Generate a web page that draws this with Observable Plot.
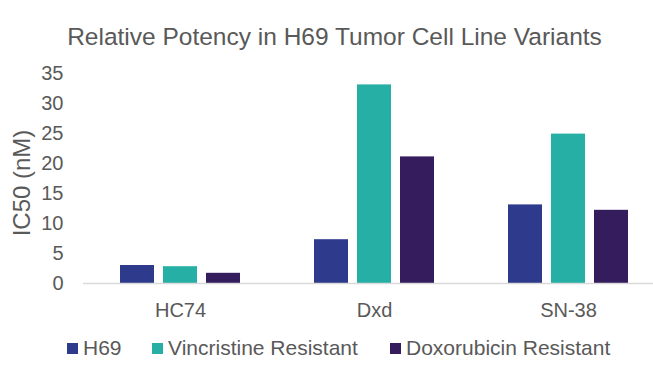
<!DOCTYPE html>
<html>
<head>
<meta charset="utf-8">
<script src="https://cdn.jsdelivr.net/npm/d3@7"></script>
<script src="https://cdn.jsdelivr.net/npm/@observablehq/plot@0.6"></script>
<style>
  html, body { margin: 0; padding: 0; background: #fff; overflow: hidden; }
  #wrap { position: relative; width: 653px; height: 371px; overflow: hidden; font-family: "Liberation Sans", Arial, sans-serif; color: #595959; }
  #title { position: absolute; left: 16px; width: 637px; top: 25px; font-size: 24.5px; line-height: 24px; text-align: center; white-space: nowrap; }
  #ylabel { position: absolute; left: 22px; top: 183px; font-size: 24px; line-height: 24px; white-space: nowrap; transform: translate(-50%, -50%) rotate(-90deg); }
  .leg { position: absolute; top: 337px; font-size: 21px; line-height: 21px; white-space: nowrap; }
  .sw { position: absolute; width: 11px; height: 11px; top: 343px; }
  #chart { position: absolute; left: 0; top: 0; }
</style>
</head>
<body>
<div id="wrap">
  <div id="chart"></div>
  <div id="title">Relative Potency in H69 Tumor Cell Line Variants</div>
  <div id="ylabel">IC50 (nM)</div>
  <div id="legend"></div>
</div>
<script>
const categories = ["HC74", "Dxd", "SN-38"];
const series = ["H69", "Vincristine Resistant", "Doxorubicin Resistant"];
const h69 = [3.0, 7.3, 13.1];
const vincristineResistant = [2.8, 33.1, 24.9];
const doxorubicinResistant = [1.7, 21.1, 12.2];
const yTicks = [0, 5, 10, 15, 20, 25, 30, 35];
const colors = ["#2E3A8C", "#26B0A5", "#351C5C"];

const seriesValues = [h69, vincristineResistant, doxorubicinResistant];
const data = [];
categories.forEach((c, i) => {
  series.forEach((s, j) => {
    data.push({category: c, series: s, value: seriesValues[j][i]});
  });
});

const chart = Plot.plot({
  width: 653,
  height: 371,
  marginTop: 73,
  marginBottom: 88,
  marginLeft: 83,
  marginRight: -12,
  style: {fontFamily: "'Liberation Sans', Arial, sans-serif", fontSize: "20px", color: "#595959", background: "transparent"},
  fx: {domain: categories, padding: 0, label: null, axis: "bottom", tickSize: 0, tickPadding: 19},
  x: {domain: series, paddingInner: 0.21, paddingOuter: 0.86, axis: null},
  y: {domain: [0, 35], ticks: yTicks, tickSize: 0, tickPadding: 20, label: null},
  color: {domain: series, range: colors},
  marks: [
    Plot.barY(data, {fx: "category", x: "series", y: "value", fill: "series"}),
    Plot.ruleY([0], {stroke: "#D9D9D9", strokeWidth: 1.3})
  ]
});
document.getElementById("chart").appendChild(chart);

// legend
const legendX = [[67, 83], [152, 168], [390, 406]];
const legend = document.getElementById("legend");
series.forEach((s, i) => {
  const sw = document.createElement("div");
  sw.className = "sw";
  sw.style.left = legendX[i][0] + "px";
  sw.style.background = colors[i];
  legend.appendChild(sw);
  const t = document.createElement("div");
  t.className = "leg";
  t.style.left = legendX[i][1] + "px";
  t.textContent = s;
  legend.appendChild(t);
});
</script>
</body>
</html>
